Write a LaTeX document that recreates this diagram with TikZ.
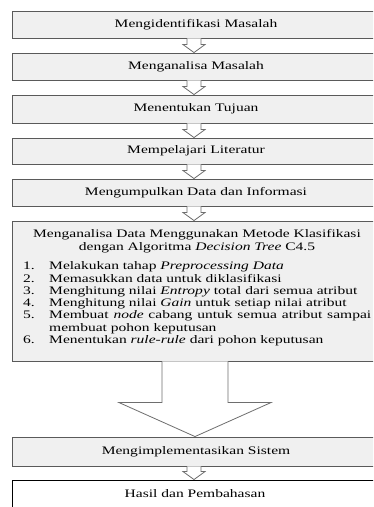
\documentclass[tikz,border=0pt]{standalone}
\usepackage{fontspec}
\setmainfont[FakeStretch=1.35]{Liberation Serif}
\usetikzlibrary{calc}
\definecolor{BoxFill}{HTML}{F0F0F0}
\definecolor{BoxLine}{HTML}{5A5A5A}
\definecolor{ArrowLine}{HTML}{6E6E6E}
\newcommand{\flowstep}[2]{\draw[flowarrow] ($(#1.south -| ax)+(-7,0)$) -- ($(#2.north -| ax)+(-7,-8)$) -- ++(-4,0) -- (#2.north -| ax) -- ++(11,-8) -- ++(-4,0) -- ($(#1.south -| ax)+(7,0)$);}
\begin{document}
\begin{tikzpicture}[x=1pt,y=-1pt,every node/.style={font=\fontsize{11.5}{12.4}\selectfont},
  stepbox/.style={draw=BoxLine,fill=BoxFill,line width=.9pt,minimum width=368pt,inner sep=0pt},
  flowarrow/.style={draw=ArrowLine,fill=white,line width=.8pt,line join=miter}]
\clip (0,0) rectangle (373,507);
\coordinate (ax) at (194,0);
\coordinate (bx) at (195,0);
\node[stepbox,minimum height=27pt] (b1) at (196,24.5) {Mengidentifikasi Masalah};
\node[stepbox,minimum height=27pt] (b2) at (196,66.5) {Menganalisa Masalah};
\node[stepbox,minimum height=28pt] (b3) at (196,109) {Menentukan Tujuan};
\node[stepbox,minimum height=26pt] (b4) at (196,151) {Mempelajari Literatur};
\node[stepbox,minimum height=27pt] (b5) at (196,192.5) {Mengumpulkan Data dan Informasi};
\node[stepbox,minimum height=140pt] (b6) at (196,291) {};
\node[stepbox,minimum height=29pt] (b7) at (196,451.5) {Mengimplementasikan Sistem};
\node[stepbox,fill=white,draw=black,minimum height=34pt] (b8) at (196,497) {};
\node[anchor=base] (h8) at (195,497) {Hasil dan Pembahasan};
\node[anchor=base] (t1) at (197,237) {Menganalisa Data Menggunakan Metode Klasifikasi};
\node[anchor=base] (t2) at (197,250) {dengan Algoritma \textit{Decision Tree} C4.5};
\foreach \yy/\num/\txt [count=\i] in {269/1./{Melakukan tahap \textit{Preprocessing Data}},
  282/2./{Memasukkan data untuk diklasifikasi},
  294/3./{Menghitung nilai \textit{Entropy} total dari semua atribut},
  306/4./{Menghitung nilai \textit{Gain} untuk setiap nilai atribut},
  318/5./{\makebox[322pt][s]{Membuat \textit{node} cabang untuk semua atribut sampai}},
  331//{membuat pohon keputusan},
  343/6./{Menentukan \textit{rule-rule} dari pohon keputusan}}
{\node[anchor=base west,inner sep=0pt] (n\i) at (23,\yy) {\num};
 \node[anchor=base west,inner sep=0pt] (l\i) at (49,\yy) {\txt};}
\flowstep{b1}{b2}
\flowstep{b2}{b3}
\flowstep{b3}{b4}
\flowstep{b4}{b5}
\flowstep{b5}{b6}
\flowstep{b7}{b8}
\draw[flowarrow] ($(b6.south -| bx)+(-33,0)$) -- ($(b7.north -| bx)+(-33,-34)$) -- ++(-43,0) -- (b7.north -| bx) -- ++(76,-34) -- ++(-43,0) -- ($(b6.south -| bx)+(33,0)$);
\end{tikzpicture}
\end{document}
